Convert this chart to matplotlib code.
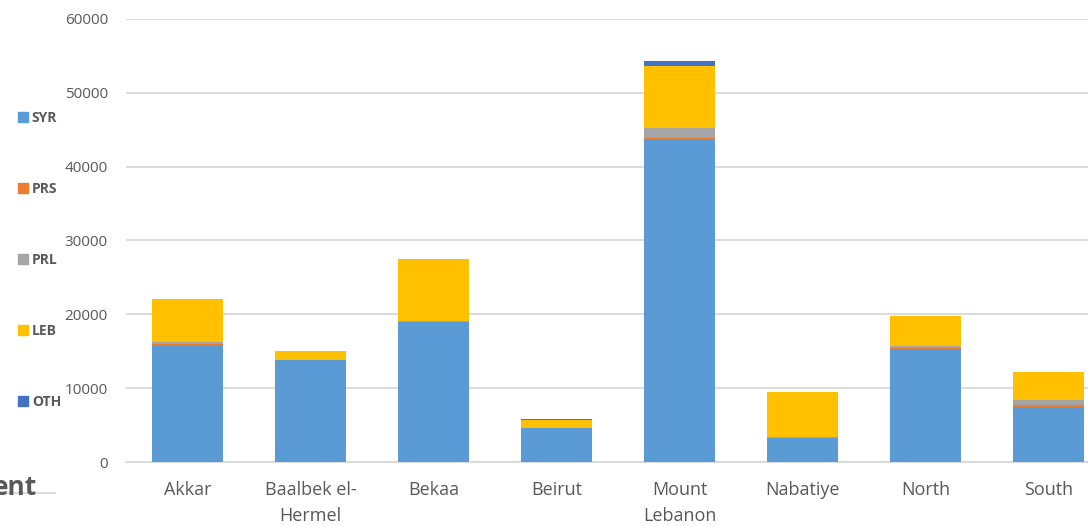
import matplotlib
matplotlib.use("Agg")
import matplotlib.pyplot as plt
import numpy as np
from matplotlib.patches import Patch

regions = ["Akkar", "Baalbek el-\nHermel", "Bekaa", "Beirut", "Mount\nLebanon",
           "Nabatiye", "North", "South"]
syr = [15850, 13750, 18950, 4550, 43750, 3280, 15250, 7480]
prs = [100, 30, 40, 20, 150, 20, 230, 230]
prl = [300, 60, 60, 60, 1300, 40, 280, 720]
leb = [5780, 1180, 8440, 1020, 8440, 6080, 4000, 3700]
oth = [40, 20, 20, 180, 680, 60, 40, 90]

series = [("SYR", syr, "#5B9BD5"), ("PRS", prs, "#ED7D31"), ("PRL", prl, "#A5A5A5"),
          ("LEB", leb, "#FFC000"), ("OTH", oth, "#4472C4")]

plt.rcParams["font.family"] = ["Open Sans", "DejaVu Sans"]
txt = "#595959"

fig = plt.figure(figsize=(10.88, 5.26), dpi=100)
ax = fig.add_axes([126 / 1088, 64 / 526, 984 / 1088, 443 / 526])

x = np.arange(len(regions))
bottom = np.zeros(len(regions))
for name, vals, col in series:
    ax.bar(x, vals, 0.57, bottom=bottom, color=col, label=name, zorder=3)
    bottom += np.array(vals)

ax.set_xlim(-0.5, len(regions) - 0.5)
ax.set_ylim(0, 60000)
ax.set_yticks(range(0, 60001, 10000))
ax.yaxis.grid(True, color="#d9d9d9", lw=1.3, zorder=0)
ax.set_xticks(x)
ax.set_xticklabels(regions, fontsize=13, color=txt, linespacing=1.55)
ax.tick_params(axis="y", length=0, labelsize=11, labelcolor=txt, pad=13)
ax.tick_params(axis="x", length=0, pad=14)
for s in ["left", "right", "top"]:
    ax.spines[s].set_visible(False)
ax.spines["bottom"].set_color("#d9d9d9")
ax.spines["bottom"].set_linewidth(1.3)

handles = [Patch(color=c, label=n) for n, _, c in series]
leg = fig.legend(handles=handles, loc="upper left", bbox_to_anchor=(0.005, 0.8126),
                 frameon=False, handlelength=0.7, handleheight=0.7, handletextpad=0.3,
                 labelspacing=4.1, prop={"weight": "bold", "size": 10})
for t in leg.get_texts():
    t.set_color(txt)

# partial title of the neighbouring chart, cut at the left edge
fig.text(37 / 1088, 31 / 526, "ent", fontsize=19, fontweight="bold", color=txt,
         ha="right", va="baseline")
fig.add_artist(plt.Line2D([0, 55 / 1088], [33 / 526, 33 / 526], color="#d9d9d9", lw=1.3, zorder=0))

fig.savefig("out.png", dpi=100)
